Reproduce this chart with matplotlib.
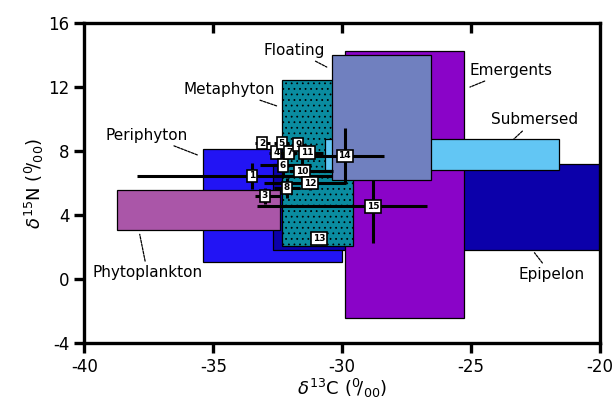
import numpy as np
import matplotlib
matplotlib.use('Agg')
import matplotlib.pyplot as plt
from matplotlib.patches import Rectangle

# source boxes: name, x range (d13C), y range (d15N), colour
groups = ['Periphyton', 'Epipelon', 'Phytoplankton', 'Emergents',
          'Metaphyton', 'Submersed', 'Floating']
c_lo = [-35.4, -32.7, -38.75, -29.9, -32.35, -30.65, -30.4]
c_hi = [-30.0, -20.0, -32.4, -25.3, -29.6, -21.6, -26.55]
n_lo = [1.1, 1.8, 3.1, -2.4, 2.1, 6.8, 6.2]
n_hi = [8.1, 7.2, 5.6, 14.25, 12.45, 8.75, 14.0]
colours = ['#2214f4', '#0c00aa', '#aa56a8', '#8a04c8',
           '#0a8ca0', '#62c6f4', '#7080bf']

# consumers (numbered) with error bars
ids = list(range(1, 16))
cx = [-33.5, -33.1, -33.0, -32.55, -32.35, -32.3, -32.05, -32.15,
      -31.7, -31.55, -31.35, -31.25, -30.9, -29.9, -28.8]
cy = [6.45, 8.5, 5.2, 7.9, 8.5, 7.1, 7.9, 5.7,
      8.4, 6.75, 7.9, 6.0, 2.55, 7.7, 4.55]
cx_lo = [4.45, 0.3, 0.4, 0.3, 0.3, 0.9, 0.3, 0.5, 0.3, 0.5, 0.3, 1.8, 0.0, 1.4, 4.5]
cx_hi = [3.1, 0.3, 0.6, 0.3, 0.3, 1.1, 0.3, 0.5, 0.3, 1.2, 0.6, 1.4, 0.0, 1.5, 2.1]
cy_lo = [0.8, 0.3, 0.5, 0.3, 0.3, 0.6, 0.3, 0.6, 0.3, 0.8, 0.3, 0.4, 0.0, 1.7, 2.3]
cy_hi = [0.8, 0.3, 0.5, 0.3, 0.3, 0.6, 0.3, 0.6, 0.3, 0.8, 0.3, 0.4, 0.0, 1.75, 1.65]

# label text positions and leader ends
lab_text = {'Floating': (-31.85, 14.3), 'Metaphyton': (-34.4, 11.85),
            'Emergents': (-23.45, 13.05), 'Submersed': (-22.55, 9.95),
            'Periphyton': (-37.6, 9.0), 'Phytoplankton': (-37.55, 0.4),
            'Epipelon': (-21.9, 0.3)}
lab_end = {'Floating': (-30.6, 13.25), 'Metaphyton': (-32.5, 10.8),
           'Emergents': (-25.05, 12.0), 'Submersed': (-23.35, 8.75),
           'Periphyton': (-35.6, 7.75), 'Phytoplankton': (-37.85, 2.8),
           'Epipelon': (-22.55, 1.65)}

plt.rcParams['hatch.linewidth'] = 0.55
plt.rcParams['axes.unicode_minus'] = False

fig = plt.figure(figsize=(6.15, 4.19), dpi=100)
ax = fig.add_axes([0.137, 0.181, 0.839, 0.764])

for i, g in enumerate(groups):
    r = Rectangle((c_lo[i], n_lo[i]), c_hi[i] - c_lo[i], n_hi[i] - n_lo[i],
                  facecolor=colours[i], edgecolor='black', lw=0.9, zorder=2 + i)
    if g == 'Metaphyton':
        r.set_hatch('...')
    ax.add_patch(r)

ax.errorbar(cx, cy, xerr=[cx_lo, cx_hi], yerr=[cy_lo, cy_hi], fmt='none',
            ecolor='black', elinewidth=2.2, capsize=0, zorder=20)
for i, n in enumerate(ids):
    ax.text(cx[i], cy[i], str(n), fontsize=6.5, fontweight='bold', ha='center',
            va='center', zorder=21,
            bbox=dict(boxstyle='square,pad=0.2', fc='white', ec='black', lw=1.2))

for g in groups:
    ax.annotate(g, xy=lab_end[g], xytext=lab_text[g], fontsize=11,
                ha='center', va='center', zorder=25,
                arrowprops=dict(arrowstyle='-', lw=0.9, linestyle=(0, (2, 1)),
                                color='black', shrinkA=1, shrinkB=0))

ax.set_xlim(-40, -20)
ax.set_ylim(-4, 16)
ax.set_xticks([-40, -35, -30, -25, -20])
ax.set_yticks([-4, 0, 4, 8, 12, 16])
for s in ax.spines.values():
    s.set_linewidth(2.4)
    s.set_zorder(30)
ax.tick_params(axis='both', direction='out', length=7, width=2.4, labelsize=12)
sec = ax.secondary_xaxis('top')
sec.set_xticks([-35, -30, -25])
sec.tick_params(direction='in', length=7, width=2.4, labeltop=False)
sec.spines['top'].set_visible(False)

ax.set_xlabel(r'$\delta^{13}$C ($^{0}\!/_{00}$)', fontsize=13, labelpad=1)
ax.set_ylabel(r'$\delta^{15}$N ($^{0}\!/_{00}$)', fontsize=13, labelpad=2)

fig.savefig('out.png', dpi=100)
